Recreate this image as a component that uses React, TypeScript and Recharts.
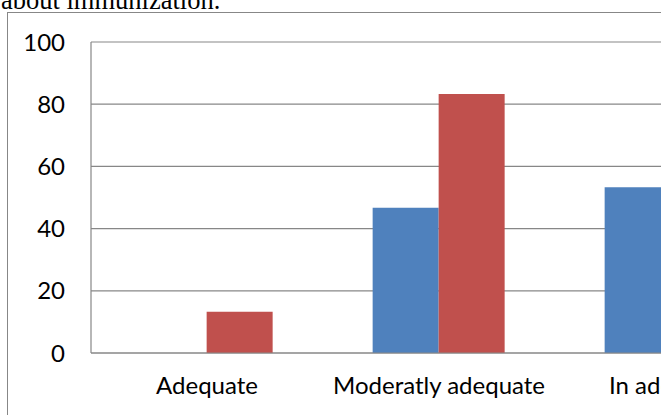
import React from 'react';
import { Bar, BarChart, CartesianGrid, XAxis, YAxis } from 'recharts';

const categories = ['Adequate', 'Moderatly adequate', 'In adequate'];
const preTest = [0, 46.7, 53.3];
const postTest = [13.3, 83.3, 3.3];
const yTicks = [0, 20, 40, 60, 80, 100];

const data = categories.map((name, i) => ({ name, pre: preTest[i], post: postTest[i] }));

const gridColor = '#878787';
const tickStyle = { fill: '#000', fontFamily: 'Lato, sans-serif', fontSize: 24 };

export default function App() {
	return (
		<div style={{ position: 'fixed', left: 0, top: 0, width: 661, height: 415, overflow: 'hidden', background: '#fff' }}>
			<div
				style={{
					position: 'absolute',
					left: 1,
					top: -13.5,
					fontFamily: '"Liberation Serif", serif',
					fontSize: 26.5,
					lineHeight: 1,
					whiteSpace: 'nowrap',
					color: '#000',
				}}
			>
				about immunization.
			</div>
			<div style={{ position: 'absolute', left: 7, top: 12, border: `1px solid ${gridColor}`, width: 930, height: 420 }}>
				<BarChart
					width={929}
					height={402}
					data={data}
					margin={{ top: 29, right: 150, left: 0, bottom: 0 }}
					barCategoryGap="21.4%"
					barGap={0}
				>
					<CartesianGrid vertical={false} stroke={gridColor} strokeWidth={1.2} />
					<XAxis
						dataKey="name"
						height={62}
						tickLine={false}
						tickSize={0}
						tickMargin={24}
						axisLine={{ stroke: gridColor, strokeWidth: 1.2 }}
						tick={tickStyle}
						interval={0}
					/>
					<YAxis
						width={83}
						domain={[0, 100]}
						ticks={yTicks}
						tickLine={false}
						tickSize={0}
						tickMargin={26}
						axisLine={{ stroke: gridColor, strokeWidth: 1.2 }}
						tick={tickStyle}
					/>
					<Bar dataKey="pre" name="Pre test" fill="#4F81BD" isAnimationActive={false} />
					<Bar dataKey="post" name="Post test" fill="#C0504D" isAnimationActive={false} />
				</BarChart>
			</div>
		</div>
	);
}
